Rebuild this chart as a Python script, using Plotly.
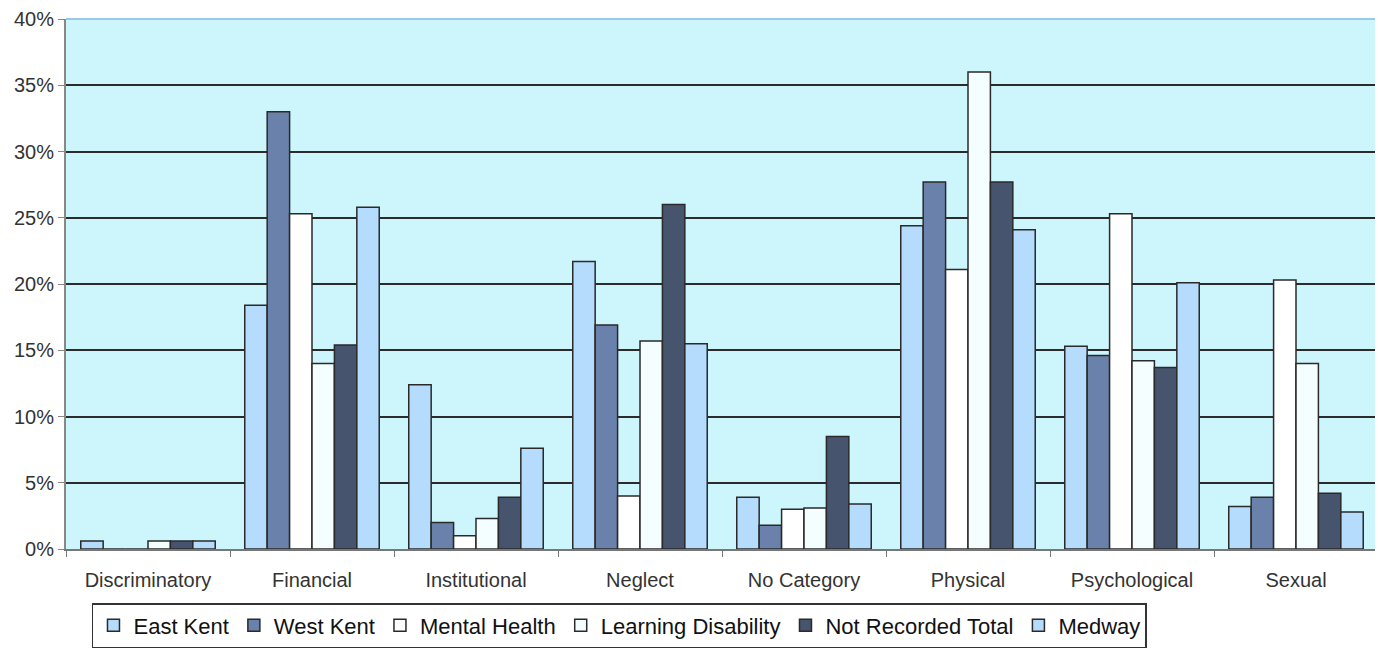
import plotly.graph_objects as go

categories = ["Discriminatory", "Financial", "Institutional", "Neglect", "No Category",
              "Physical", "Psychological", "Sexual"]
series_names = ["East Kent", "West Kent", "Mental Health", "Learning Disability",
                "Not Recorded Total", "Medway"]
east_kent = [0.6, 18.4, 12.4, 21.7, 3.9, 24.4, 15.3, 3.2]
west_kent = [0.0, 33.0, 2.0, 16.9, 1.8, 27.7, 14.6, 3.9]
mental_health = [0.0, 25.3, 1.0, 4.0, 3.0, 21.1, 25.3, 20.3]
learning_disability = [0.6, 14.0, 2.3, 15.7, 3.1, 36.0, 14.2, 14.0]
not_recorded = [0.6, 15.4, 3.9, 26.0, 8.5, 27.7, 13.7, 4.2]
medway = [0.6, 25.8, 7.6, 15.5, 3.4, 24.1, 20.1, 2.8]
tick_vals = [0, 5, 10, 15, 20, 25, 30, 35, 40]
tick_text = ["0%", "5%", "10%", "15%", "20%", "25%", "30%", "35%", "40%"]

series_values = [east_kent, west_kent, mental_health, learning_disability, not_recorded, medway]
colors = ["#b5dcfd", "#6a82ab", "#ffffff", "#f5feff", "#47546e", "#b5dcfd"]

fig = go.Figure()
for name, vals, col in zip(series_names, series_values, colors):
    fig.add_trace(go.Bar(
        name=name, x=categories, y=vals,
        marker=dict(color=col, line=dict(color="#2a2a2a", width=1.5)),
    ))

fig.update_layout(
    width=1383, height=659,
    margin=dict(l=58, r=13, t=11, b=118),
    paper_bgcolor="white",
    plot_bgcolor="#ccf5fc",
    barmode="group",
    bargap=0.18,
    bargroupgap=0,
    font=dict(family="Liberation Sans, Arial, sans-serif", size=20, color="#333333"),
    showlegend=True,
    legend=dict(
        orientation="h",
        x=0.0198, xanchor="left",
        y=-0.102, yanchor="top",
        bordercolor="#333333", borderwidth=1.5,
        font=dict(size=22, color="#111111"),
        itemwidth=30,
        traceorder="normal",
    ),
    xaxis=dict(
        automargin=False,
        showline=True, linecolor="#777777", linewidth=2,
        ticks="outside", tickson="boundaries", ticklen=6, tickcolor="#777777",
        tickfont=dict(size=20, color="#333333"),
        ticklabelstandoff=12,
        showgrid=False,
    ),
    yaxis=dict(
        automargin=False,
        range=[0, 40],
        tickvals=tick_vals, ticktext=tick_text,
        showline=True, linecolor="#888888", linewidth=2,
        ticks="outside", ticklen=6, tickcolor="#888888",
        showgrid=True, gridcolor="#2b2b2b", gridwidth=2,
        zeroline=False,
        tickfont=dict(size=20, color="#333333"),
    ),
    shapes=[
        dict(type="line", xref="paper", yref="paper", x0=0, x1=1, y0=1, y1=1,
             line=dict(color="#9cc7ea", width=2), layer="above"),
        dict(type="line", xref="paper", yref="paper", x0=1, x1=1, y0=0, y1=1,
             line=dict(color="#9cc7ea", width=2), layer="above"),
    ],
)

fig.write_html("out.html")
